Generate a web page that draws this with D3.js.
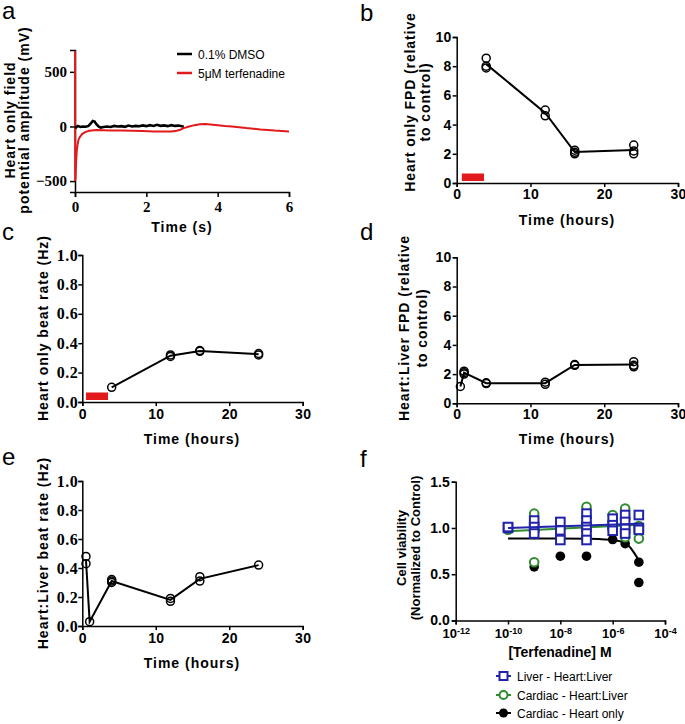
<!DOCTYPE html>
<html><head><meta charset="utf-8">
<script src="https://cdn.jsdelivr.net/npm/d3@7/dist/d3.min.js"></script>
<style>body{margin:0;background:#fff}</style>
</head><body>
<script>
// ---------- DATA ----------
// Panel a: field potential traces
const traceTimeDMSO = [0,0.03,0.08,0.15,0.22,0.3,0.38,0.45,0.5,0.55,0.6,0.66,0.72,0.8,0.9,1.0,1.1,1.2,1.3,1.4,1.5,1.6,1.7,1.8,1.9,2.0,2.1,2.2,2.3,2.4,2.5,2.6,2.7,2.8,2.9,3.0,3.05];
const traceDMSO     = [0,-10,5,-5,0,-3,5,30,50,45,20,0,-10,-5,0,-5,5,0,3,-3,8,0,5,2,10,3,12,5,15,6,10,3,12,5,8,2,0];
const traceTimeTerf = [0,0.001,0.004,0.015,0.03,0.05,0.075,0.1,0.14,0.2,0.28,0.4,0.6,0.8,1.0,1.3,1.6,1.9,2.2,2.5,2.7,2.85,2.95,3.05,3.2,3.35,3.5,3.65,3.8,4.0,4.2,4.4,4.6,4.8,5.0,5.2,5.4,5.6,5.8,6.0];
const traceTerf     = [0,690,-500,-470,-330,-220,-160,-120,-95,-70,-52,-40,-33,-34,-36,-38,-40,-42,-45,-45,-47,-40,-30,-15,0,12,20,22,18,12,5,0,-8,-15,-20,-28,-32,-38,-42,-45];
const legendA = ["0.1% DMSO","5\u03bcM terfenadine"];
const ticksAX = [0,2,4,6], ticksAY = [-500,0,500];

// Drug exposure window (hours)
const drugWindowB = [0.7, 3.7];
const drugWindowC = [0.5, 3.5];

// Panel b: Heart only FPD
const hoursB = [4,4,4,12,12,16,16,16,24,24,24];
const fpdHeartOnly = [8.55,8.0,7.88,5.0,4.6,2.25,2.1,2.0,2.6,2.2,2.0];
// Panel c: Heart only beat rate
const hoursC = [4,12,12,16,16,24,24];
const beatHeartOnly = [0.10,0.31,0.32,0.345,0.35,0.32,0.33];
// Panel d: Heart:Liver FPD
const hoursD = [0.5,1,1,1,4,4,12,12,16,16,24,24,24];
const fpdHeartLiver = [1.15,2.0,2.1,2.2,1.4,1.35,1.3,1.45,2.6,2.65,2.85,2.6,2.5];
// Panel e: Heart:Liver beat rate
const hoursE = [0.5,0.5,1,4,4,4,12,12,16,16,24];
const beatHeartLiver = [0.48,0.43,0.03,0.32,0.30,0.31,0.19,0.17,0.34,0.31,0.42];
const ticksHours = [0,10,20,30];
const ticksFPD = [0,2,4,6,8,10];
const ticksRate = [0,0.2,0.4,0.6,0.8,1.0];

// Panel f: cell viability
const concLiver = [1e-10,1e-10,1e-9,1e-9,1e-9,1e-8,1e-8,1e-8,1e-7,1e-7,1e-7,1e-7,1e-7,1e-6,1e-6,1e-6,3e-6,3e-6,3e-6,3e-6,1e-5,1e-5,1e-5];
const viabLiver = [1.0,1.01,1.08,1.01,0.94,1.065,0.975,0.87,1.155,1.08,1.01,0.94,0.87,1.1,1.03,0.97,1.14,1.065,0.99,0.94,1.14,1.0,0.98];
const concCardHL = [1e-10,1e-9,1e-9,1e-9,1e-8,1e-8,1e-7,1e-7,1e-7,1e-6,1e-6,3e-6,3e-6,1e-5,1e-5];
const viabCardHL = [0.98,1.155,0.63,0.96,0.99,0.9,1.23,1.05,0.88,1.14,1.0,1.21,0.9,0.885,1.02];
const concCardHO = [1e-9,1e-9,1e-8,1e-8,1e-7,1e-7,1e-6,3e-6,1e-5,1e-5];
const viabCardHO = [0.58,0.93,0.695,0.9,0.695,0.88,0.875,0.83,0.63,0.41];
// fitted curves
const fitConcLiver = [1e-10,1e-5], fitLiver = [1.0,1.045];
const fitConcCardHL = [1e-10,1e-5], fitCardHL = [0.965,1.035];
const fitConcCardHO = [1e-10,1e-8,1e-7,3e-7,1e-6,2e-6,3.4e-6,5e-6,7e-6,1e-5];
const fitCardHO = [0.885,0.885,0.884,0.88,0.87,0.855,0.83,0.78,0.72,0.65];
const ticksConc = [1e-12,1e-10,1e-8,1e-6,1e-4];
const ticksViab = [0,0.5,1.0,1.5];
const legendF = ["Liver - Heart:Liver","Cardiac - Heart:Liver","Cardiac - Heart only"];

// ---------- DRAW ----------
const SANS = "'Liberation Sans', Arial, sans-serif";
const SERIF = "'Liberation Serif', 'Times New Roman', serif";
const BLUE = "#2222aa", GREEN = "#2e8b2e", RED = "#e31a1c";
const svg = d3.select("body").append("svg").attr("width",685).attr("height",724);

function styleAxis(g, font, size, spacing){
  g.attr("font-family", null).attr("font-size", null);
  g.selectAll("text").attr("fill","#000").style("font-family",font).style("font-size",size+"px")
    .style("font-weight","bold").style("letter-spacing", spacing+"px");
  g.select(".domain").attr("stroke","#000").attr("stroke-width",1.5);
  g.selectAll(".tick line").attr("stroke","#000").attr("stroke-width",1.5);
}
function label(t, x, y){
  svg.append("text").attr("x",x).attr("y",y).style("font-family",SANS).style("font-size","24px").text(t);
}
function title(t, x, y, rot, size, spacing){
  const e = svg.append("text").style("font-family",SANS).style("font-weight","bold")
    .style("font-size",(size||14)+"px").attr("text-anchor","middle").style("letter-spacing",(spacing==null?0.9:spacing)+"px")
    .text(t);
  if(rot) e.attr("transform",`translate(${x},${y}) rotate(-90)`); else e.attr("x",x).attr("y",y);
}
function axesFor(x, y, xt, yt, opt){
  const gx = svg.append("g").attr("transform",`translate(0,${y.range()[0]})`)
    .call(d3.axisBottom(x).tickValues(xt).tickSizeOuter(0).tickSize(opt.xs).tickPadding(opt.xp).tickFormat(opt.xf||d3.format("d")));
  styleAxis(gx, opt.xfont, opt.xsize, opt.xsp);
  const gy = svg.append("g").attr("transform",`translate(${x.range()[0]},0)`)
    .call(d3.axisLeft(y).tickValues(yt).tickSizeOuter(0).tickSize(opt.ys).tickPadding(opt.yp).tickFormat(opt.yf||d3.format("d")));
  styleAxis(gy, opt.yfont, opt.ysize, opt.ysp);
  return gx;
}
function timeCourse(x, y, hours, vals){
  const means = d3.rollups(hours.map((h,i)=>[h,vals[i]]), v=>d3.mean(v,d=>d[1]), d=>d[0]).sort((a,b)=>a[0]-b[0]);
  svg.append("path").datum(means).attr("fill","none").attr("stroke","#000").attr("stroke-width",2)
    .attr("d", d3.line().x(d=>x(d[0])).y(d=>y(d[1])));
  svg.append("g").selectAll("circle").data(hours.map((h,i)=>[h,vals[i]])).join("circle")
    .attr("cx",d=>x(d[0])).attr("cy",d=>y(d[1])).attr("r",4)
    .attr("fill","none").attr("stroke","#000").attr("stroke-width",1.5);
}
function drugBar(x, y, win){
  svg.append("rect").attr("x",x(win[0])).attr("width",x(win[1])-x(win[0]))
    .attr("y",y.range()[0]-9.5).attr("height",7.5).attr("fill",RED);
}

// ---- Panel a ----
{
  const x = d3.scaleLinear().domain([0,6]).range([75,289]);
  const y = d3.scaleLinear().domain([-600,700]).range([192,50]);
  axesFor(x,y,ticksAX,ticksAY,{xs:5,xp:4,xfont:SERIF,xsize:15,xsp:0,ys:5,yp:3,yfont:SERIF,ysize:15,ysp:0});
  const line = d3.line().x(d=>x(d[0])).y(d=>y(d[1]));
  svg.append("path").datum(traceTimeTerf.map((t,i)=>[t,traceTerf[i]])).attr("fill","none")
    .attr("stroke",RED).attr("stroke-width",2).attr("d",line);
  svg.append("path").datum(traceTimeDMSO.map((t,i)=>[t,traceDMSO[i]])).attr("fill","none")
    .attr("stroke","#000").attr("stroke-width",2.6).attr("d",line);
  [["#000",54],[RED,73]].forEach((c,i)=>{
    svg.append("line").attr("x1",177).attr("x2",192).attr("y1",c[1]).attr("y2",c[1]).attr("stroke",c[0]).attr("stroke-width",2.5);
    svg.append("text").attr("x",198).attr("y",c[1]+4.5).style("font-family",SANS).style("font-size","12px").text(legendA[i]);
  });
  title("Heart only field", 15, 120, true, 14, 1);
  title("potential amplitude (mV)", 29, 120, true, 14, 1);
  title("Time (s)", 182, 232, false, 14, 1);
  label("a", 2, 19);
}
// ---- Panel b ----
{
  const x = d3.scaleLinear().domain([0,30]).range([456.7,678]);
  const y = d3.scaleLinear().domain([0,10]).range([183,37]);
  axesFor(x,y,ticksHours,ticksFPD,{xs:4,xp:2,xfont:SANS,xsize:14,xsp:0.3,ys:4,yp:1,yfont:SANS,ysize:14,ysp:0.3});
  drugBar(x,y,drugWindowB);
  timeCourse(x,y,hoursB,fpdHeartOnly);
  title("Heart only FPD (relative", 415, 102, true, 14, 0.9);
  title("to control)", 430, 102, true, 14, 0.9);
  title("Time (hours)", 567, 225, false, 14, 1);
  label("b", 360, 21);
}
// ---- Panel c ----
{
  const x = d3.scaleLinear().domain([0,30]).range([82.3,302.7]);
  const y = d3.scaleLinear().domain([0,1]).range([402,255]);
  axesFor(x,y,ticksHours,ticksRate,{xs:4,xp:3,xfont:SANS,xsize:14,xsp:0.3,ys:4,yp:0,yfont:SERIF,ysize:16,ysp:0.5,yf:d3.format(".1f")});
  drugBar(x,y,drugWindowC);
  timeCourse(x,y,hoursC,beatHeartOnly);
  title("Heart only beat rate (Hz)", 48, 328, true, 14, 1);
  title("Time (hours)", 192, 444, false, 14, 1);
  label("c", 2, 240);
}
// ---- Panel d ----
{
  const x = d3.scaleLinear().domain([0,30]).range([456.7,678]);
  const y = d3.scaleLinear().domain([0,10]).range([403.3,257.3]);
  axesFor(x,y,ticksHours,ticksFPD,{xs:4,xp:2,xfont:SANS,xsize:14,xsp:0.3,ys:4,yp:1,yfont:SANS,ysize:14,ysp:0.3});
  timeCourse(x,y,hoursD,fpdHeartLiver);
  title("Heart:Liver FPD (relative", 409, 328, true, 14, 0.9);
  title("to control)", 427, 328, true, 14, 0.9);
  title("Time (hours)", 567, 444, false, 14, 1);
  label("d", 360, 240);
}
// ---- Panel e ----
{
  const x = d3.scaleLinear().domain([0,30]).range([82.3,302.7]);
  const y = d3.scaleLinear().domain([0,1]).range([626,481]);
  axesFor(x,y,ticksHours,ticksRate,{xs:4,xp:3,xfont:SANS,xsize:14,xsp:0.3,ys:4,yp:0,yfont:SERIF,ysize:16,ysp:0.5,yf:d3.format(".1f")});
  timeCourse(x,y,hoursE,beatHeartLiver);
  title("Heart:Liver beat rate (Hz)", 48, 553, true, 14, 1);
  title("Time (hours)", 192, 668, false, 14, 1);
  label("e", 2, 465);
}
// ---- Panel f ----
{
  const x = d3.scaleLog().domain([1e-12,1e-4]).range([455.7,665]);
  const y = d3.scaleLinear().domain([0,1.5]).range([620.5,481.7]);
  const gx = axesFor(x,y,ticksConc,ticksViab,{xs:4,xp:4,xfont:SANS,xsize:13,xsp:0,ys:4,yp:2,yfont:SANS,ysize:14,ysp:0,yf:d3.format(".1f"),xf:()=>""});
  gx.selectAll(".tick text").each(function(d){
    const t = d3.select(this);
    t.append("tspan").text("10");
    t.append("tspan").attr("dy","-0.45em").style("font-size","9px").text(Math.round(Math.log10(d)));
  });
  const fit = d3.line().x(d=>x(d[0])).y(d=>y(d[1])).curve(d3.curveMonotoneX);
  // black: cardiac - heart only
  svg.append("path").datum(fitConcCardHO.map((c,i)=>[c,fitCardHO[i]])).attr("fill","none").attr("stroke","#000").attr("stroke-width",2).attr("d",fit);
  svg.append("g").selectAll("circle").data(concCardHO.map((c,i)=>[c,viabCardHO[i]])).join("circle")
    .attr("cx",d=>x(d[0])).attr("cy",d=>y(d[1])).attr("r",4.8).attr("fill","#000");
  // green: cardiac - heart:liver
  svg.append("g").selectAll("circle").data(concCardHL.map((c,i)=>[c,viabCardHL[i]])).join("circle")
    .attr("cx",d=>x(d[0])).attr("cy",d=>y(d[1])).attr("r",4.3).attr("fill","#fff").attr("stroke",GREEN).attr("stroke-width",2);
  svg.append("path").datum(fitConcCardHL.map((c,i)=>[c,fitCardHL[i]])).attr("fill","none").attr("stroke",GREEN).attr("stroke-width",2).attr("d",fit);
  // blue: liver - heart:liver
  svg.append("g").selectAll("rect").data(concLiver.map((c,i)=>[c,viabLiver[i]])).join("rect")
    .attr("x",d=>x(d[0])-4.3).attr("y",d=>y(d[1])-4.3).attr("width",8.6).attr("height",8.6)
    .attr("fill","#fff").attr("stroke",BLUE).attr("stroke-width",2);
  svg.append("path").datum(fitConcLiver.map((c,i)=>[c,fitLiver[i]])).attr("fill","none").attr("stroke",BLUE).attr("stroke-width",2).attr("d",fit);

  title("Cell viability", 406, 548, true, 13, 0);
  title("(Normalized to Control)", 420, 548, true, 13, 0);
  title("[Terfenadine] M", 560, 657, false, 14, 0);
  label("f", 360, 467);
  // legend
  const rows = [[676,BLUE,"sq"],[695,GREEN,"ci"],[713,"#000","dot"]];
  rows.forEach((r,i)=>{
    svg.append("line").attr("x1",496).attr("x2",511).attr("y1",r[0]).attr("y2",r[0]).attr("stroke",r[1]).attr("stroke-width",2);
    if(r[2]==="sq") svg.append("rect").attr("x",503.5-4).attr("y",r[0]-4).attr("width",8).attr("height",8).attr("fill","#fff").attr("stroke",r[1]).attr("stroke-width",2);
    else if(r[2]==="ci") svg.append("circle").attr("cx",503.5).attr("cy",r[0]).attr("r",4).attr("fill","#fff").attr("stroke",r[1]).attr("stroke-width",2);
    else svg.append("circle").attr("cx",503.5).attr("cy",r[0]).attr("r",4.5).attr("fill","#000");
    svg.append("text").attr("x",517).attr("y",r[0]+4.5).style("font-family",SANS).style("font-size","12px").text(legendF[i]);
  });
}
</script>
</body></html>
